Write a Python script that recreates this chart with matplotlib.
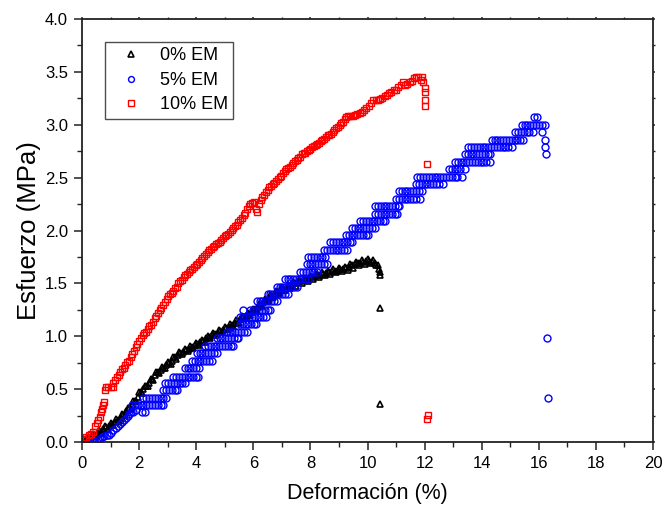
import matplotlib
matplotlib.use("Agg")
import matplotlib.pyplot as plt
from matplotlib.ticker import MultipleLocator

plt.rcParams['font.family'] = ['Liberation Sans', 'DejaVu Sans']

# ---------------- data ----------------
# 0% EM (black triangles)
em0_x = [0.0, 0.1, 0.2, 0.3, 0.4, 0.5, 0.6, 0.7, 0.8, 0.9,
         1.0, 1.1, 1.2, 1.3, 1.4, 1.5, 1.6, 1.7, 1.8, 1.9,
         2.0, 2.1, 2.2, 2.3, 2.4, 2.5, 2.6, 2.7, 2.8, 2.9,
         3.0, 3.1, 3.2, 3.3, 3.4, 3.5, 3.6, 3.7, 3.8, 3.9,
         4.0, 4.1, 4.2, 4.3, 4.4, 4.5, 4.6, 4.7, 4.8, 4.9,
         5.0, 5.1, 5.2, 5.3, 5.4, 5.5, 5.6, 5.7, 5.8, 5.9,
         6.0, 6.1, 6.2, 6.3, 6.4, 6.5, 6.6, 6.7, 6.8, 6.9,
         7.0, 7.1, 7.2, 7.3, 7.4, 7.5, 7.6, 7.7, 7.8, 7.9,
         8.0, 8.1, 8.2, 8.3, 8.4, 8.5, 8.6, 8.7, 8.8, 8.9,
         9.0, 9.1, 9.2, 9.3, 9.4, 9.5, 9.6, 9.7, 9.8, 9.9,
         10.0, 10.1, 10.2, 10.3, 10.4, 10.44, 10.44, 10.45, 10.45]
em0_y = [0.00, 0.00, 0.05, 0.03, 0.08, 0.06, 0.11, 0.09, 0.15, 0.12,
         0.18, 0.16, 0.22, 0.20, 0.27, 0.26, 0.32, 0.31, 0.39, 0.39,
         0.47, 0.46, 0.53, 0.53, 0.60, 0.59, 0.66, 0.65, 0.71, 0.70,
         0.76, 0.74, 0.80, 0.79, 0.85, 0.83, 0.88, 0.86, 0.91, 0.89,
         0.94, 0.92, 0.97, 0.95, 1.00, 0.98, 1.03, 1.01, 1.06, 1.04,
         1.09, 1.07, 1.12, 1.10, 1.15, 1.13, 1.19, 1.17, 1.22, 1.20,
         1.26, 1.25, 1.31, 1.29, 1.35, 1.33, 1.39, 1.37, 1.43, 1.41,
         1.46, 1.44, 1.49, 1.46, 1.51, 1.48, 1.53, 1.50, 1.55, 1.52,
         1.57, 1.54, 1.59, 1.56, 1.61, 1.58, 1.62, 1.59, 1.64, 1.61,
         1.65, 1.62, 1.66, 1.63, 1.68, 1.65, 1.70, 1.67, 1.72, 1.68,
         1.73, 1.69, 1.72, 1.67, 1.64, 1.61, 1.58, 1.27, 0.36]
# 0% EM, readings in between
em0_mid_x = [0.05, 0.15, 0.25, 0.35, 0.45, 0.55, 0.65, 0.75, 0.85, 0.95,
             1.05, 1.15, 1.25, 1.35, 1.45, 1.55, 1.65, 1.75, 1.85, 1.95,
             2.05, 2.15, 2.25, 2.35, 2.45, 2.55, 2.65, 2.75, 2.85, 2.95,
             3.05, 3.15, 3.25, 3.35, 3.45, 3.55, 3.65, 3.75, 3.85, 3.95,
             4.05, 4.15, 4.25, 4.35, 4.45, 4.55, 4.65, 4.75, 4.85, 4.95,
             5.05, 5.15, 5.25, 5.35, 5.45, 5.55, 5.65, 5.75, 5.85, 5.95,
             6.05, 6.15, 6.25, 6.35, 6.45, 6.55, 6.65, 6.75, 6.85, 6.95,
             7.05, 7.15, 7.25, 7.35, 7.45, 7.55, 7.65, 7.75, 7.85, 7.95,
             8.05, 8.15, 8.25, 8.35, 8.45, 8.55, 8.65, 8.75, 8.85, 8.95,
             9.05, 9.15, 9.25, 9.35, 9.45, 9.55, 9.65, 9.75, 9.85, 9.95,
             10.05, 10.15, 10.25, 10.35]
em0_mid_y = [0.01, 0.03, 0.04, 0.06, 0.07, 0.09, 0.10, 0.12, 0.14, 0.15,
             0.17, 0.19, 0.21, 0.23, 0.26, 0.29, 0.32, 0.35, 0.39, 0.43,
             0.47, 0.50, 0.53, 0.56, 0.60, 0.63, 0.66, 0.68, 0.70, 0.73,
             0.75, 0.77, 0.80, 0.82, 0.84, 0.85, 0.87, 0.88, 0.90, 0.92,
             0.93, 0.95, 0.96, 0.98, 0.99, 1.01, 1.02, 1.03, 1.05, 1.06,
             1.08, 1.09, 1.11, 1.13, 1.14, 1.16, 1.18, 1.19, 1.21, 1.23,
             1.26, 1.28, 1.30, 1.32, 1.34, 1.36, 1.38, 1.40, 1.42, 1.44,
             1.45, 1.46, 1.47, 1.49, 1.50, 1.51, 1.52, 1.53, 1.54, 1.55,
             1.56, 1.57, 1.58, 1.58, 1.59, 1.60, 1.61, 1.62, 1.62, 1.63,
             1.64, 1.64, 1.65, 1.66, 1.67, 1.68, 1.69, 1.69, 1.70, 1.71,
             1.71, 1.70, 1.69, 1.67]

# 5% EM (blue circles): early points, then stress plateaus with their strains
em5_start_x = [0.40, 0.47, 0.55, 0.62, 0.70, 0.78, 0.86, 0.94, 1.02, 1.10,
               1.18, 1.25, 1.32, 1.39, 1.46, 1.53, 1.60, 1.66, 1.72, 1.80, 1.88]
em5_start_y = [0.00, 0.01, 0.02, 0.03, 0.05, 0.06, 0.07, 0.07, 0.09, 0.11,
               0.13, 0.15, 0.17, 0.19, 0.21, 0.23, 0.25, 0.27, 0.28, 0.28, 0.30]
em5_levels = [0.35, 0.28, 0.42, 0.49, 0.555, 0.62, 0.70, 0.77, 0.84, 0.91,
              0.98, 1.04, 1.12, 1.18, 1.25, 1.33, 1.40, 1.47, 1.54, 1.61,
              1.68, 1.75, 1.82, 1.89, 1.96, 2.02, 2.09, 2.16, 2.23, 2.30,
              2.37, 2.44, 2.51, 2.58, 2.65, 2.72, 2.79, 2.86, 2.93, 3.00, 3.07]
em5_level_x = [
    [1.75, 1.85, 1.95, 2.05, 2.15, 2.25, 2.35, 2.45, 2.55, 2.65, 2.75, 2.85],
    [2.10, 2.20],
    [2.15, 2.25, 2.35, 2.45, 2.55, 2.65, 2.75, 2.85, 2.95],
    [2.85, 2.95, 3.05, 3.15, 3.25, 3.32],
    [2.92, 3.02, 3.12, 3.22, 3.32, 3.42, 3.52, 3.62],
    [3.20, 3.30, 3.40, 3.50, 3.60, 3.70, 3.80, 3.90, 4.00, 4.07],
    [3.60, 3.70, 3.80, 3.90, 4.00, 4.10],
    [3.85, 3.95, 4.05, 4.15, 4.25, 4.35, 4.45, 4.55],
    [4.02, 4.12, 4.22, 4.32, 4.42, 4.52, 4.62, 4.72],
    [4.31, 4.41, 4.51, 4.61, 4.71, 4.81, 4.91, 5.01, 5.11, 5.21, 5.30],
    [4.72, 4.82, 4.92, 5.02, 5.12, 5.22, 5.32, 5.42, 5.47],
    [5.07, 5.17, 5.27, 5.37, 5.47, 5.57, 5.67, 5.77],
    [5.53, 5.63, 5.73, 5.83, 5.93, 6.03, 6.10],
    [5.55, 5.65, 5.75, 5.85, 5.95, 6.05, 6.15, 6.25, 6.35, 6.45],
    [5.65, 5.90, 6.00, 6.10, 6.20, 6.30, 6.40, 6.50, 6.60],
    [6.12, 6.22, 6.32, 6.42, 6.52, 6.62, 6.72, 6.82],
    [6.50, 6.60, 6.70, 6.80, 6.90, 7.00, 7.10, 7.20],
    [6.82, 6.92, 7.02, 7.12, 7.22, 7.32, 7.42, 7.52],
    [7.10, 7.20, 7.30, 7.40, 7.50, 7.60, 7.70, 7.80, 7.90],
    [7.64, 7.74, 7.84, 7.94, 8.04, 8.14, 8.22],
    [7.87, 7.97, 8.07, 8.17, 8.27, 8.37, 8.47, 8.57],
    [7.92, 8.02, 8.12, 8.22, 8.32, 8.42, 8.52],
    [8.48, 8.58, 8.68, 8.78, 8.88, 8.98, 9.08, 9.18, 9.27],
    [8.69, 8.79, 8.89, 8.99, 9.09, 9.19, 9.29, 9.39, 9.45],
    [9.24, 9.34, 9.44, 9.54, 9.64, 9.74, 9.84, 9.94, 10.00],
    [9.45, 9.55, 9.65, 9.75, 9.85, 9.95, 10.05, 10.15, 10.26],
    [9.74, 9.84, 9.94, 10.04, 10.14, 10.24, 10.34, 10.44, 10.54, 10.60],
    [10.26, 10.36, 10.46, 10.56, 10.66, 10.76, 10.86, 10.96, 11.02],
    [10.26, 10.36, 10.46, 10.56, 10.66, 10.76, 10.86, 10.96, 11.06, 11.10],
    [11.00, 11.10, 11.20, 11.30, 11.40, 11.50, 11.60, 11.70, 11.84],
    [11.10, 11.20, 11.30, 11.40, 11.50, 11.60, 11.70, 11.80, 11.90],
    [11.70, 11.80, 11.90, 12.00, 12.10, 12.20, 12.30, 12.40, 12.50, 12.65],
    [11.75, 11.85, 11.95, 12.05, 12.15, 12.25, 12.35, 12.45, 12.55, 12.65,
     12.75, 12.85, 12.95, 13.05, 13.15, 13.30],
    [12.85, 12.95, 13.05, 13.15, 13.25, 13.41],
    [13.06, 13.16, 13.26, 13.36, 13.46, 13.56, 13.66, 13.76, 13.86, 13.96,
     14.06, 14.16, 14.29],
    [13.41, 13.51, 13.61, 13.71, 13.81, 13.91, 14.01, 14.11, 14.21, 14.29],
    [13.53, 13.63, 13.73, 13.83, 13.93, 14.03, 14.13, 14.23, 14.33, 14.43,
     14.53, 14.63, 14.73, 14.83, 14.93, 15.05],
    [14.35, 14.45, 14.55, 14.65, 14.75, 14.85, 14.95, 15.05, 15.15, 15.25,
     15.35, 15.46],
    [15.17, 15.27, 15.37, 15.47, 15.57, 15.67, 15.80],
    [15.40, 15.50, 15.60, 15.70, 15.80, 15.90, 16.00, 16.10, 16.20],
    [15.82, 15.95],
]
em5_end_x = [16.10, 16.20, 16.23, 16.25, 16.30, 16.33]
em5_end_y = [2.93, 2.86, 2.79, 2.72, 0.98, 0.42]

# 10% EM (red squares)
em10_x = [0.05, 0.15, 0.25, 0.32, 0.40, 0.46, 0.52, 0.57, 0.62, 0.66,
          0.70, 0.74, 0.77, 0.80, 0.85, 0.92, 1.00, 1.07, 1.10, 1.16,
          1.22, 1.28, 1.33, 1.40, 1.46, 1.52, 1.58, 1.64, 1.70, 1.76,
          1.82, 1.88, 1.94, 2.00, 2.06, 2.12, 2.18, 2.24, 2.30, 2.36,
          2.42, 2.48, 2.54, 2.60, 2.66, 2.72, 2.78, 2.84, 2.90, 2.96,
          3.02, 3.08, 3.14, 3.20, 3.26, 3.32, 3.38, 3.44, 3.50, 3.56,
          3.62, 3.68, 3.74, 3.80, 3.86, 3.92, 3.98, 4.04, 4.10, 4.16,
          4.22, 4.28, 4.34, 4.40, 4.46, 4.52, 4.58, 4.64, 4.70, 4.76,
          4.82, 4.88, 4.94, 5.00, 5.06, 5.12, 5.18, 5.24, 5.30, 5.36,
          5.42, 5.48, 5.54, 5.60, 5.66, 5.72, 5.78, 5.84, 5.90, 5.96,
          6.02, 6.08, 6.14, 6.20, 6.26, 6.32, 6.38, 6.44, 6.50, 6.56,
          6.62, 6.68, 6.74, 6.80, 6.86, 6.92, 6.98, 7.04, 7.10, 7.16,
          7.22, 7.28, 7.34, 7.40, 7.46, 7.52, 7.58, 7.64, 7.70, 7.76,
          7.82, 7.88, 7.94, 8.00, 8.06, 8.12, 8.18, 8.24, 8.30, 8.36,
          8.42, 8.48, 8.54, 8.60, 8.66, 8.72, 8.78, 8.84, 8.90, 8.96,
          9.02, 9.08, 9.14, 9.20, 9.26, 9.32, 9.40, 9.48, 9.56, 9.64,
          9.72, 9.80, 9.88, 9.96, 10.04, 10.12, 10.20, 10.28, 10.36, 10.44,
          10.52, 10.60, 10.68, 10.76, 10.84, 10.92, 11.00, 11.08, 11.16, 11.24,
          11.32, 11.40, 11.48, 11.56, 11.62, 11.70, 11.78, 11.86, 11.92, 11.96,
          12.00, 12.02, 12.02, 12.03, 12.08, 12.12, 12.09]
em10_y = [0.03, 0.05, 0.07, 0.08, 0.10, 0.15, 0.18, 0.21, 0.24, 0.28,
          0.31, 0.35, 0.38, 0.49, 0.52, 0.52, 0.52, 0.52, 0.56, 0.59,
          0.62, 0.63, 0.66, 0.69, 0.70, 0.73, 0.76, 0.77, 0.80, 0.83,
          0.86, 0.90, 0.93, 0.96, 0.98, 1.01, 1.03, 1.04, 1.07, 1.10,
          1.11, 1.14, 1.17, 1.19, 1.22, 1.25, 1.27, 1.30, 1.32, 1.35,
          1.38, 1.40, 1.41, 1.43, 1.46, 1.47, 1.50, 1.52, 1.53, 1.56,
          1.58, 1.59, 1.61, 1.63, 1.64, 1.66, 1.67, 1.68, 1.70, 1.72,
          1.74, 1.76, 1.78, 1.80, 1.82, 1.83, 1.84, 1.85, 1.87, 1.88,
          1.89, 1.91, 1.93, 1.95, 1.96, 1.97, 1.99, 2.01, 2.02, 2.04,
          2.05, 2.08, 2.10, 2.12, 2.15, 2.17, 2.20, 2.23, 2.25, 2.26,
          2.27, 2.20, 2.18, 2.25, 2.29, 2.32, 2.34, 2.36, 2.38, 2.41,
          2.42, 2.44, 2.45, 2.47, 2.49, 2.51, 2.52, 2.54, 2.56, 2.58,
          2.59, 2.60, 2.62, 2.64, 2.66, 2.67, 2.69, 2.70, 2.72, 2.73,
          2.73, 2.75, 2.76, 2.77, 2.79, 2.80, 2.81, 2.82, 2.83, 2.85,
          2.86, 2.87, 2.88, 2.90, 2.90, 2.91, 2.93, 2.95, 2.97, 2.98,
          3.00, 3.02, 3.03, 3.05, 3.07, 3.08, 3.08, 3.08, 3.09, 3.10,
          3.11, 3.12, 3.14, 3.16, 3.18, 3.21, 3.23, 3.23, 3.23, 3.24,
          3.25, 3.27, 3.28, 3.30, 3.31, 3.33, 3.33, 3.36, 3.38, 3.40,
          3.38, 3.39, 3.40, 3.41, 3.44, 3.45, 3.45, 3.42, 3.45, 3.40,
          3.35, 3.31, 3.23, 3.18, 2.63, 0.26, 0.215]

labels = ["0% EM", "5% EM", "10% EM"]
colors = ["black", "#0000ff", "#ff0000"]

# combine lists
em0_all_x = em0_x + em0_mid_x
em0_all_y = em0_y + em0_mid_y
em5_x = list(em5_start_x)
em5_y = list(em5_start_y)
for lev, xs in zip(em5_levels, em5_level_x):
    em5_x.extend(xs)
    em5_y.extend([lev] * len(xs))
em5_x.extend(em5_end_x)
em5_y.extend(em5_end_y)

# ---------------- figure ----------------
fig = plt.figure(figsize=(6.65, 5.07), dpi=100)
ax = fig.add_axes([0.1233, 0.128, 0.8587, 0.8345])

ms = 5.0
mew = 1.0
ax.plot(em0_all_x, em0_all_y, linestyle='none', marker='^', markersize=ms,
        markerfacecolor='none', markeredgecolor=colors[0], markeredgewidth=1.2,
        label=labels[0])
ax.plot(em5_x, em5_y, linestyle='none', marker='o', markersize=ms,
        markerfacecolor='none', markeredgecolor=colors[1], markeredgewidth=mew,
        label=labels[1])
ax.plot(em10_x, em10_y, linestyle='none', marker='s', markersize=ms - 0.3,
        markerfacecolor='none', markeredgecolor=colors[2], markeredgewidth=mew,
        label=labels[2])

ax.set_xlim(0, 20)
ax.set_ylim(0, 4.0)
ax.xaxis.set_major_locator(MultipleLocator(2))
ax.xaxis.set_minor_locator(MultipleLocator(1))
ax.yaxis.set_major_locator(MultipleLocator(0.5))
ax.yaxis.set_minor_locator(MultipleLocator(0.25))
ax.yaxis.set_major_formatter(plt.FormatStrFormatter('%.1f'))

for sp in ax.spines.values():
    sp.set_linewidth(1.3)
    sp.set_color('#222222')

ax.tick_params(axis='both', which='major', direction='out', length=6,
               width=1.1, labelsize=12, colors='#222222', labelcolor='black',
               pad=4)
ax.tick_params(axis='both', which='minor', direction='out', length=3.5,
               width=1.0, colors='#222222')
ax.tick_params(top=True, right=True, which='both')
for tick in ax.xaxis.get_major_ticks() + ax.xaxis.get_minor_ticks():
    tick.tick2line.set_markersize(1.5)
for tick in ax.yaxis.get_major_ticks() + ax.yaxis.get_minor_ticks():
    tick.tick2line.set_markersize(1.5)

ax.set_xlabel("Deformación (%)", fontsize=15.5, labelpad=9)
ax.set_ylabel("Esfuerzo (MPa)", fontsize=18.5, labelpad=3)

leg = ax.legend(loc='upper left', bbox_to_anchor=(0.04, 0.946), frameon=True,
                fancybox=False, shadow=False, fontsize=13, handlelength=2.3,
                handletextpad=0.45, borderpad=0.3, labelspacing=0.42,
                markerscale=0.85, borderaxespad=0.0)
leg.get_frame().set_edgecolor('#222222')
leg.get_frame().set_linewidth(1.0)

fig.savefig("out.png", dpi=100)
